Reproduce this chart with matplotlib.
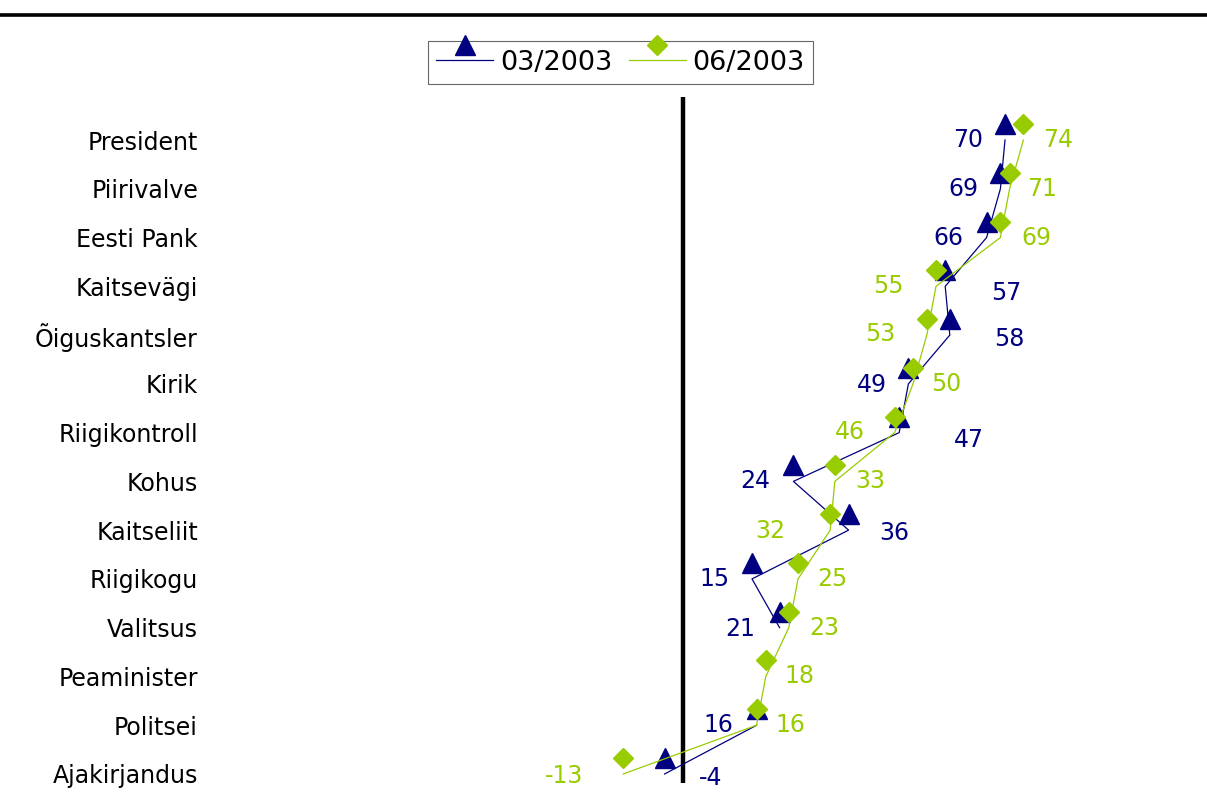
import numpy as np
import matplotlib
matplotlib.use("Agg")
import matplotlib.pyplot as plt
import matplotlib.transforms as mtransforms
from matplotlib.lines import Line2D
from matplotlib.legend_handler import HandlerLine2DCompound

# andmed
kategooriad = ["President", "Piirivalve", "Eesti Pank", "Kaitsevägi", "Õiguskantsler",
               "Kirik", "Riigikontroll", "Kohus", "Kaitseliit", "Riigikogu",
               "Valitsus", "Peaminister", "Politsei", "Ajakirjandus"]
v_0303 = [70, 69, 66, 57, 58, 49, 47, 24, 36, 15, 21, np.nan, 16, -4]
v_0603 = [74, 71, 69, 55, 53, 50, 46, 33, 32, 25, 23, 18, 16, -13]
seeria_nimed = ["03/2003", "06/2003"]

SININE = "#000080"
ROHELINE = "#99cc00"

# sildi nihked pikslites (x, y) punkti suhtes
sin_dx = [-37, -37, -38, 61, 60, -37, 70, -38, 46, -38, -39, 0, -38, 46]
sin_dy = [0, 0, 0, -7, -4, -1, -7, 0, -3, 0, -1, 0, 0, -4]
roh_dx = [35, 32, 36, -48, -47, 33, -45, 35, -60, 34, 35, 34, 34, -59]
roh_dy = [0, 0, 0, 0, 1, 0, 1, 0, -1, 0, 0, 0, 0, -2]

plt.rcParams['font.family'] = ['DejaVu Sans']
FS = 17

W, H = 1207, 799
fig = plt.figure(figsize=(W / 100, H / 100), dpi=100)
ax = fig.add_axes([223 / W, 16 / H, 920 / W, 686 / H])

y = np.arange(len(kategooriad))
# markerid on Exceli moodi joonest veidi kõrgemal
marker_tr = mtransforms.offset_copy(ax.transData, fig=fig, x=0, y=16, units='dots')

ax.axvline(0, color="black", lw=3.2, solid_capstyle="round", zorder=1)

ax.plot(v_0303, y, color=SININE, lw=0.9, zorder=2)
ax.plot(v_0303, y, color=SININE, ls="none", marker="^", ms=14.5,
        transform=marker_tr, zorder=3)
ax.plot(v_0603, y, color=ROHELINE, lw=0.9, zorder=4)
ax.plot(v_0603, y, color=ROHELINE, ls="none", marker="D", ms=10,
        transform=marker_tr, zorder=5)

for i in range(len(kategooriad)):
    if not np.isnan(v_0303[i]):
        ax.annotate(f"{v_0303[i]:.0f}", (v_0303[i], y[i]), xytext=(sin_dx[i], sin_dy[i]),
                    textcoords="offset pixels", ha="center", va="center",
                    color=SININE, fontsize=FS)
    ax.annotate(f"{v_0603[i]:.0f}", (v_0603[i], y[i]), xytext=(roh_dx[i], roh_dy[i]),
                textcoords="offset pixels", ha="center", va="center",
                color=ROHELINE, fontsize=FS)

ax.set_xlim(-100, 100)
ax.set_ylim(13.185, -0.882)
ax.set_yticks(y)
ax.set_yticklabels(kategooriad, fontsize=FS)
ax.tick_params(axis="y", length=0, pad=18)
ax.set_xticks([])
for s in ax.spines.values():
    s.set_visible(False)


class TostetudMarker(HandlerLine2DCompound):
    def create_artists(self, legend, orig_handle, xdescent, ydescent, width,
                       height, fontsize, trans):
        joon, marker = super().create_artists(legend, orig_handle, xdescent, ydescent,
                                              width, height, fontsize, trans)
        marker.set_ydata(np.asarray(marker.get_ydata()) + 10.8)
        return [joon, marker]


h1 = Line2D([], [], color=SININE, lw=0.9, marker="^", ms=14.5)
h2 = Line2D([], [], color=ROHELINE, lw=0.9, marker="D", ms=10)
leg = fig.legend([h1, h2], seeria_nimed, loc="center", ncol=2,
                 bbox_to_anchor=(620.5 / W, 1 - 62.5 / H), fontsize=19.5,
                 frameon=True, fancybox=False, handlelength=2.1,
                 handletextpad=0.25, columnspacing=0.6, borderpad=0.32,
                 handler_map={Line2D: TostetudMarker()})
leg.get_frame().set_edgecolor("#404040")
leg.get_frame().set_linewidth(0.8)

fig.add_artist(Line2D([0, 1], [1 - 15 / H, 1 - 15 / H], color="black", lw=2.6,
                      transform=fig.transFigure))

fig.savefig("out.png", dpi=100)
